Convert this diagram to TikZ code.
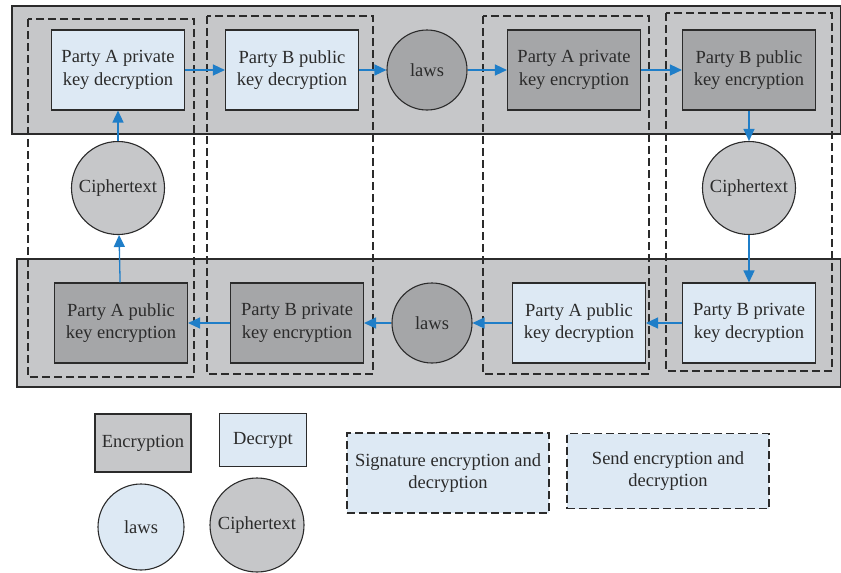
\documentclass[tikz,border=0pt]{standalone}
\usepackage{fontspec}
\setmainfont{Liberation Serif}
\usetikzlibrary{arrows.meta}
\definecolor{bandgray}{HTML}{C6C7C9}
\definecolor{encgray}{HTML}{A5A6A8}
\definecolor{decblue}{HTML}{DDE9F4}
\definecolor{flowblue}{HTML}{1F7EC8}
\definecolor{inkgray}{HTML}{2B2B2B}
\begin{document}
\begin{tikzpicture}[x=1pt,y=-1pt,
  font=\fontsize{18.5}{22.5}\selectfont,text=inkgray,
  box/.style={draw=inkgray,line width=1.1pt,minimum width=133pt,minimum height=80pt,inner sep=0pt,align=center},
  enc/.style={box,fill=encgray},
  dec/.style={box,fill=decblue},
  round/.style={circle,draw=inkgray,line width=1.1pt,inner sep=0pt,align=center},
  lawsnode/.style={round,fill=encgray,minimum size=80pt},
  cipher/.style={round,fill=bandgray,minimum size=93pt},
  band/.style={draw=inkgray,line width=1.1pt,fill=bandgray},
  group/.style={draw=inkgray,line width=1.1pt,dash pattern=on 8pt off 4pt},
  flow/.style={draw=flowblue,line width=1.3pt,-{Triangle[length=12pt,width=11pt]}}]
\useasboundingbox (0,0) rectangle (841,573);
% bands
\draw[band] (12,6) rectangle (841,134);
\draw[band] (17,259) rectangle (841,387);
% dashed groups
\draw[group] (28,19) rectangle (194,377);
\draw[group] (207,16) rectangle (373,374);
\draw[group] (483,16) rectangle (649,374);
\draw[group] (666,13) rectangle (832,371);
% top row
\node[dec] (apd) at (118,70) {Party A private\\key decryption};
\node[dec] (bpd) at (292,70) {Party B public\\key decryption};
\node[lawsnode] (lawstop) at (427,70) {laws};
\node[enc] (ape) at (574,70) {Party A private\\key encryption};
\node[enc] (bpe) at (749,70) {Party B public\\key encryption};
% ciphertexts
\node[cipher] (cleft) at (118,188) {Ciphertext};
\node[cipher] (cright) at (749,188) {Ciphertext};
% bottom row
\node[enc] (aue) at (121,323) {Party A public\\key encryption};
\node[enc] (bre) at (297,323) {Party B private\\key encryption};
\node[lawsnode] (lawsbot) at (432,323) {laws};
\node[dec] (aud) at (579,323) {Party A public\\key decryption};
\node[dec] (brd) at (749,323) {Party B private\\key decryption};
% flow
\draw[flow] (apd) -- (bpd);
\draw[flow] (bpd) -- (lawstop);
\draw[flow] (lawstop) -- (ape);
\draw[flow] (ape) -- (bpe);
\draw[flow] (bpe) -- (cright);
\draw[flow] (cright) -- (brd);
\draw[flow] (brd) -- (aud);
\draw[flow] (aud) -- (lawsbot);
\draw[flow] (lawsbot) -- (bre);
\draw[flow] (bre) -- (aue);
\draw[flow] (aue) -- (cleft);
\draw[flow] (cleft) -- (apd);
% legend
\node[box,fill=bandgray,minimum width=96pt,minimum height=58pt] (legenc) at (143,443) {Encryption};
\node[box,fill=decblue,minimum width=87pt,minimum height=53pt] (legdec) at (263,440) {Decrypt};
\node[round,fill=decblue,minimum size=86pt] (leglaws) at (141,527) {laws};
\node[round,fill=bandgray,minimum size=94pt] (legcipher) at (257,525) {Ciphertext};
\node[box,group,fill=decblue,minimum width=202pt,minimum height=80pt] (legsig) at (448,473) {Signature encryption and\\decryption};
\node[box,group,fill=decblue,minimum width=202pt,minimum height=75pt] (legsend) at (668,471) {Send encryption and\\decryption};
\end{tikzpicture}
\end{document}
